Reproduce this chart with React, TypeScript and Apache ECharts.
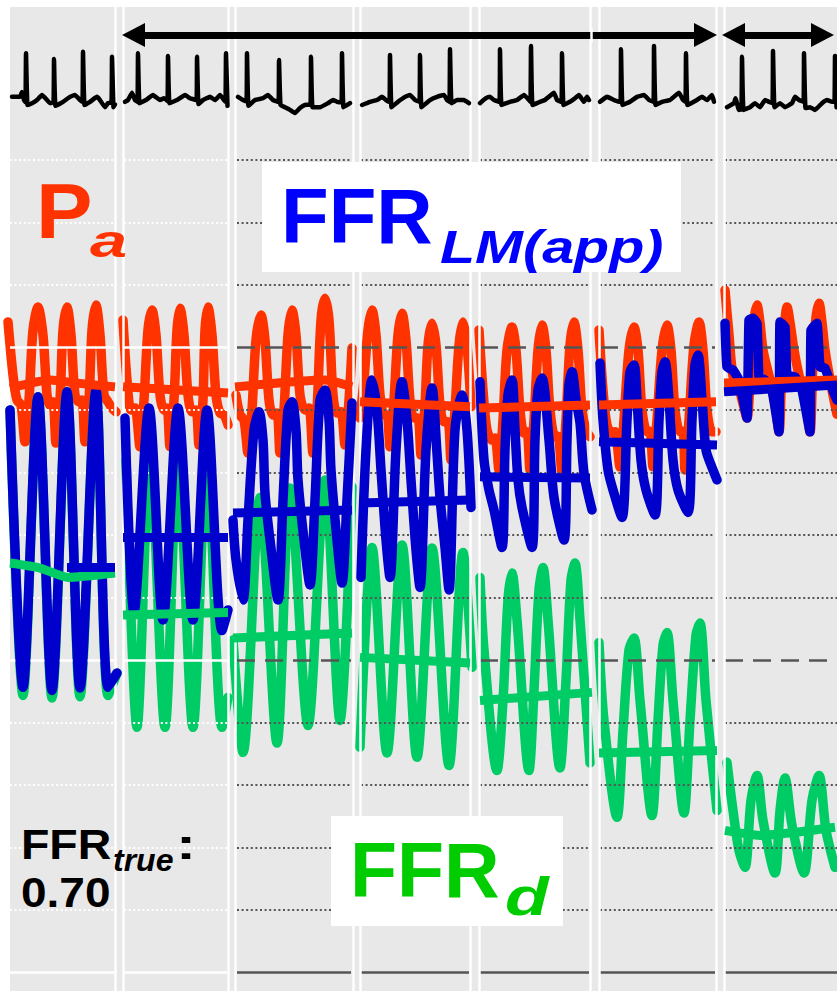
import React, { useEffect, useRef } from "react";
import * as echarts from "echarts";

// ---- axes ----
// x: recording time in samples (7 consecutive pull-back recordings side by side)
// y: pressure in mmHg; ECG in mV on its own hidden axis
const timeRange = [0, 837];
const pressureRange = [-3, 154.5];
const ecgRange = [-19.8, 2.067];

const separators = [115, 123, 228, 235, 353, 360, 470, 479, 590, 599, 716, 724];
const lightPanels = [[10, 114], [124, 227]];
const darkPanels = [[237, 351], [361, 469], [480, 589], [600, 715], [725, 837]];
const gridValues = [0, 10, 20, 30, 40, 50, 60, 70, 80, 90, 100, 110, 120, 130];
const dashedValues = [50, 100];

// ---- aortic pressure Pa (mmHg) per recording ----
const paWave = [
  [[8,104.1],[13,95.6],[17,91.6],[21,90.8],[25,84.9],[29,91.6],[33,102.8],[38,106.5],[43,102.0],[47,92.4],[50,90.8],[53,91.3],[56,84.7],[60,91.6],[63,102.8],[67,106.5],[71,102.0],[75,92.4],[79,91.3],[82,91.6],[85,84.9],[89,91.6],[92,102.8],[96,106.8],[100,102.0],[104,92.4],[108,91.3],[112,90.3],[116,89.7]],
  [[123,104.4],[127,94.8],[131,90.0],[135,90.3],[140,84.1],[144,91.6],[148,102.8],[152,106.0],[156,102.0],[160,92.4],[164,90.0],[167,90.3],[170,84.1],[174,91.6],[177,102.8],[180,106.3],[184,102.0],[188,92.4],[192,89.7],[196,90.0],[199,84.4],[203,91.6],[205,102.8],[208,106.5],[212,102.0],[216,92.4],[220,89.5],[224,89.2],[228,87.6]],
  [[236,92.4],[240,89.2],[244,88.4],[248,83.1],[252,90.0],[256,101.2],[261,105.2],[265,101.2],[269,91.6],[273,89.2],[277,89.5],[280,83.1],[284,90.0],[288,102.0],[292,106.0],[296,102.0],[300,92.4],[305,90.0],[309,90.3],[313,83.1],[317,90.0],[321,104.4],[325,107.9],[329,104.4],[333,92.4],[337,89.5],[341,89.7],[345,84.4],[349,91.6],[352,99.9]],
  [[360,88.7],[364,94.8],[368,102.8],[372,106.0],[376,102.0],[380,92.4],[384,89.2],[387,89.2],[390,84.1],[394,91.6],[398,102.0],[402,105.5],[406,101.2],[410,91.6],[414,88.7],[418,88.7],[421,82.8],[425,90.8],[428,100.4],[432,103.9],[436,100.4],[440,90.8],[444,88.1],[448,88.1],[451,82.0],[455,90.0],[459,100.4],[463,104.1],[467,100.4],[471,90.5]],
  [[479,102.8],[483,93.2],[487,86.8],[492,85.2],[495,85.5],[499,80.4],[503,88.4],[507,99.6],[512,103.3],[516,99.6],[520,90.0],[524,86.3],[527,86.5],[530,80.4],[534,88.4],[538,99.6],[542,103.6],[546,99.6],[550,90.0],[555,85.7],[558,85.8],[562,79.9],[566,88.4],[570,100.4],[574,104.1],[578,99.6],[582,90.0],[586,86.8],[590,85.7]],
  [[599,102.8],[603,93.2],[607,87.6],[612,86.3],[615,86.5],[620,80.9],[624,88.4],[629,99.6],[634,103.3],[638,99.6],[642,90.0],[647,86.5],[650,86.6],[653,80.9],[657,88.4],[662,99.6],[667,103.6],[671,99.6],[675,90.0],[680,86.5],[683,86.6],[685,80.4],[689,88.4],[694,100.4],[699,104.1],[703,99.6],[707,90.0],[712,86.5],[716,86.5]],
  [[725,109.2],[729,102.0],[733,95.4],[738,94.0],[743,91.0],[747,88.7],[751,98.0],[754,104.4],[757,106.8],[760,104.0],[763,99.6],[770,94.8],[775,91.0],[779,86.5],[782,98.0],[785,104.4],[787,106.5],[790,104.0],[794,99.6],[800,94.8],[806,91.0],[810,86.5],[813,98.0],[816,104.8],[819,107.1],[822,104.0],[825,99.6],[831,94.0],[837,89.3]],
];
const paMean = [
  [[10,93.5],[50,94.8],[77,94.3],[115,93.7]],
  [[123,93.7],[228,92.7]],
  [[235,93.7],[325,94.8],[352,93.7]],
  [[360,91.3],[470,90.5]],
  [[479,90.3],[590,90.8]],
  [[599,90.8],[716,91.3]],
  [[724,94.3],[837,94.8]],
];

// ---- apparent left-main pressure FFR_LM(app) ----
const lmWave = [
  [[10,90.0],[23,45.6],[38,92.1],[52,45.1],[67,92.9],[80,45.5],[96,93.2],[108,45.6],[117,47.9]],
  [[125,88.7],[134,57.6],[149,90.3],[163,56.4],[178,90.3],[193,56.4],[207,90.0],[222,54.7],[228,58.0]],
  [[233,72.4],[236,66.0],[243,59.6],[248,72.4],[254,86.8],[259,89.7],[263,85.2],[265,76.7],[270,69.2],[278,59.6],[283,75.6],[288,90.0],[292,91.3],[296,86.8],[298,78.8],[304,69.2],[310,62.0],[315,75.6],[320,91.6],[325,93.2],[329,88.4],[331,80.4],[337,69.2],[342,62.3],[347,75.6],[352,91.1]],
  [[361,63.2],[366,83.6],[372,94.8],[377,90.0],[381,80.4],[386,69.2],[390,63.2],[396,83.6],[402,94.5],[407,88.4],[411,78.8],[416,67.6],[420,61.6],[426,83.6],[432,93.5],[437,83.1],[440,76.0],[445,68.0],[449,61.2],[455,86.8],[462,92.4],[467,86.8],[471,74.4]],
  [[480,94.5],[484,82.0],[489,77.2],[494,74.0],[502,68.0],[505,83.6],[508,92.4],[512,94.8],[515,86.8],[518,78.8],[522,74.4],[532,68.0],[535,85.2],[538,93.2],[542,95.1],[549,85.2],[554,76.0],[564,69.2],[567,85.2],[569,94.0],[572,96.1],[576,91.6],[580,87.9],[584,79.9],[592,74.0]],
  [[600,97.5],[603,88.4],[608,80.4],[613,77.2],[622,72.8],[627,88.4],[630,96.1],[634,97.2],[637,91.6],[641,82.0],[646,77.2],[655,73.2],[659,88.4],[662,96.1],[665,97.7],[669,91.6],[673,82.0],[678,77.2],[688,73.6],[692,88.4],[695,97.2],[698,98.8],[702,91.6],[706,83.6],[711,81.2],[717,78.8]],
  [[725,103.9],[727,96.9],[733,96.4],[739,94.8],[747,88.7],[749,104.4],[753,104.7],[757,103.9],[759,95.3],[765,94.8],[772,93.2],[779,86.5],[780,104.1],[785,103.3],[787,95.6],[795,95.3],[802,93.2],[810,86.5],[811,102.8],[817,103.9],[820,96.9],[825,96.7],[834,92.7],[837,91.6]],
];
const lmMean = [
  [[67,64.8],[115,64.8]],
  [[123,69.6],[228,69.6]],
  [[233,73.5],[352,74.0]],
  [[360,75.1],[470,75.6]],
  [[480,79.3],[590,79.1]],
  [[599,84.9],[717,84.4]],
  [[724,92.9],[837,94.0]],
];

// ---- distal pressure FFR_d ----
const fdWave = [
  [[10,90.0],[23,44.3],[38,92.1],[52,43.9],[67,92.9],[80,44.1],[96,93.2],[108,44.3],[117,47.9]],
  [[126,82.0],[137,39.2],[150,83.1],[165,39.2],[178,83.1],[193,39.2],[207,82.8],[222,39.2],[228,44.0]],
  [[233,53.2],[243,35.2],[260,76.0],[277,36.7],[290,77.5],[308,39.5],[325,78.8],[340,40.3],[352,77.7]],
  [[360,36.0],[372,68.0],[387,35.1],[402,68.4],[417,34.4],[432,67.9],[449,33.1],[463,67.2],[472,48.8]],
  [[480,63.2],[484,51.6],[497,32.3],[503,43.5],[508,59.6],[512,63.9],[517,56.4],[529,32.3],[534,45.1],[539,61.2],[543,64.8],[548,56.4],[560,32.7],[566,46.7],[571,62.8],[575,65.5],[580,56.4],[590,33.5]],
  [[599,52.8],[604,40.3],[617,24.8],[623,38.7],[629,51.6],[634,53.5],[640,43.5],[652,25.1],[658,40.3],[663,52.4],[667,54.4],[673,43.5],[684,25.5],[690,40.3],[696,54.0],[700,55.9],[706,43.5],[717,25.9]],
  [[727,33.6],[733,25.9],[739,19.5],[745,16.8],[751,27.5],[757,31.5],[763,24.3],[775,15.9],[780,25.9],[785,31.1],[792,23.5],[804,15.9],[812,27.5],[819,31.5],[826,22.7],[835,16.8]],
];
const fdMean = [
  [[10,65.5],[40,64.7],[68,63.2],[115,63.9]],
  [[123,57.2],[228,57.6]],
  [[233,53.5],[352,54.3]],
  [[360,50.4],[470,49.5]],
  [[480,43.5],[592,44.8]],
  [[599,35.1],[717,35.5]],
  [[725,22.7],[760,21.9],[835,23.2]],
];

// ---- ECG (mV) ----
const ecg = [
  [[12,0.07],[20,0.07],[22,0.18],[24,0],[25.5,-0.05],[26,1.04],[27.5,-0.11],[32,-0.07],[37,0],[42,0.11],[47,0],[50,-0.07],[53.5,-0.05],[54,0.91],[55.5,-0.13],[63,-0.04],[70,0.07],[75,0.11],[80,0],[82.5,-0.04],[83,1.07],[84.5,-0.11],[90,-0.04],[97,0.07],[100,0],[105,-0.16],[108,-0.07],[111.5,-0.05],[112,0.96],[113.5,-0.16],[115,-0.1]],
  [[125,-0.04],[128,0],[132,0.16],[135,0],[137.5,-0.04],[138,1.04],[139.5,-0.07],[146,0],[153,0.11],[160,0],[164,0.04],[167.5,-0.02],[168,0.98],[169.5,-0.07],[177,0],[185,0.11],[190,0.04],[196.5,0],[197,0.96],[198.5,-0.09],[203,0],[210,0.07],[215,0],[220,0.11],[224,0],[225.5,-0.04],[226,1.04],[227.5,-0.13]],
  [[238,0.07],[243,0],[246.5,-0.03],[247,1.04],[248.5,-0.13],[255,0],[263,0.04],[268,0.11],[273,0],[278.5,-0.04],[279,0.89],[280.5,-0.11],[285,-0.16],[290,-0.22],[295,-0.29],[300,-0.18],[305,-0.11],[310.5,-0.1],[311,0.96],[312.5,-0.16],[320,-0.16],[328,-0.07],[333,0],[337,-0.04],[341.5,-0.05],[342,1.04],[343.5,-0.16],[350,-0.07]],
  [[362,-0.11],[370,-0.04],[377,0],[382,0.07],[386,0],[389.5,-0.04],[390,1.0],[391.5,-0.16],[398,-0.04],[405,0.07],[410,0.11],[415,0],[419.5,-0.04],[420,1.0],[421.5,-0.16],[430,0],[437,0.07],[444,0.11],[447,0],[449.5,-0.04],[450,1.13],[451.5,-0.07],[457,0],[464,0],[469,-0.07]],
  [[480,-0.07],[486,0.04],[490,0.07],[494,0],[499.5,-0.04],[500,1.13],[501.5,-0.11],[510,-0.04],[517,0],[524,0.11],[529,0],[530.5,-0.04],[531,1.2],[532.5,-0.11],[540,-0.04],[545,0],[554,0.16],[557,0],[561.5,-0.04],[562,1.04],[563.5,-0.11],[570,-0.04],[575,0.04],[579,0.11],[584,-0.04],[587,0.07],[589,0]],
  [[600,-0.04],[607,0.07],[614,0],[620.5,-0.04],[621,1.13],[622.5,-0.11],[630,-0.04],[637,0.07],[644,0.11],[649,0],[653.5,-0.04],[654,1.2],[655.5,-0.11],[662,-0.04],[670,0],[679,0.16],[683,0],[685.5,-0.04],[686,1.04],[687.5,-0.11],[697,0],[702,0.07],[707,0],[712,0.11],[714,-0.04]],
  [[727,-0.16],[734,-0.07],[735.5,0.04],[739,-0.22],[741.5,-0.2],[742,0.96],[743.5,-0.22],[750,-0.16],[755,-0.07],[760,-0.16],[765,0],[769,-0.04],[772.5,-0.07],[773,1.09],[774.5,-0.16],[780,-0.07],[785,-0.16],[792,-0.07],[795,0.07],[799,0],[803.5,-0.04],[804,1.04],[805.5,-0.18],[810,-0.16],[815,-0.22],[822,-0.07],[827,0],[832,-0.04],[834.5,-0.04],[835,0.98],[836.5,-0.16]],
];

// ---- pull-back arrows (time spans, drawn at 150 mmHg level) ----
const arrowSpans = [[122, 717], [722, 834]];
const arrowLevel = 150;

const RED = "#FF3300";
const BLUE = "#0000CC";
const GREEN = "#00CC66";
const GRID_DARK = "#555555";

function gridStyle(v: number, light: boolean) {
  const color = light ? "#FFFFFF" : GRID_DARK;
  if (v === 0) return { color, width: 2.5, type: "solid" as any };
  if (dashedValues.includes(v)) return light ? { color, width: 2.5, type: "solid" as any } : { color, width: 2.5, type: [18, 10] as any };
  return { color, width: 2.2, type: [2, 2.6] as any };
}

function font(size: number, italic = false) {
  return `${italic ? "italic " : ""}bold ${size}px "Liberation Sans", Arial, Helvetica, sans-serif`;
}
// y given baseline, for 'middle' vertical alignment (central baseline)
function mid(baseline: number, size: number) {
  return baseline - 0.3465 * size;
}

export default function App() {
  const ref = useRef<HTMLDivElement>(null);
  useEffect(() => {
    if (!ref.current) return;
    const chart = echarts.init(ref.current, undefined, { renderer: "svg" });

    const gridSegments: any[] = [];
    gridValues.forEach((v) => {
      lightPanels.forEach(([a, b]) =>
        gridSegments.push([{ coord: [a, v], lineStyle: gridStyle(v, true) }, { coord: [b, v] }])
      );
      darkPanels.forEach(([a, b]) =>
        gridSegments.push([{ coord: [a, v], lineStyle: gridStyle(v, false) }, { coord: [b, v] }])
      );
    });

    const series: any[] = [
      {
        type: "line", data: [], silent: true, z: 0,
        markArea: { silent: true, itemStyle: { color: "#E8E8E8" }, data: [[{ xAxis: 10 }, { xAxis: 837 }]] },
      },
      {
        type: "line", data: [], silent: true, z: 1,
        markLine: { silent: true, symbol: ["none", "none"], label: { show: false }, emphasis: { disabled: true }, data: gridSegments },
      },
      {
        type: "line", data: [], silent: true, z: 2,
        markLine: {
          silent: true, symbol: ["none", "none"], label: { show: false }, emphasis: { disabled: true },
          data: separators.map((x) => ({ xAxis: x, lineStyle: { color: "#FFFFFF", width: 2.5, type: "solid" } })),
        },
      },
    ];

    const wave = (data: number[][], color: string, z: number, width = 9.5, smooth = 0.3) => ({
      type: "line", data, z, silent: true, symbol: "none", showSymbol: false, smooth, clip: false,
      lineStyle: { color, width, cap: "round", join: "round" },
    });
    const meanLine = (data: number[][], color: string, z: number) => ({
      type: "line", data, z, silent: true, symbol: "none", showSymbol: false, smooth: 0.2, clip: false,
      lineStyle: { color, width: 9, cap: "butt", join: "round" },
    });

    paWave.forEach((d) => series.push(wave(d, RED, 3)));
    fdWave.forEach((d) => series.push(wave(d, GREEN, 4)));
    lmWave.forEach((d, i) => series.push(wave(d, BLUE, 5, 9.5, i === 6 ? 0.1 : 0.3)));
    paMean.forEach((d) => series.push(meanLine(d, RED, 6)));
    fdMean.forEach((d) => series.push(meanLine(d, GREEN, 6)));
    lmMean.forEach((d) => series.push(meanLine(d, BLUE, 7)));
    ecg.forEach((d) =>
      series.push({
        type: "line", data: d, yAxisIndex: 1, z: 8, silent: true, symbol: "none", showSymbol: false, smooth: 0.1,
        lineStyle: { color: "#000", width: 4.5, cap: "round", join: "round" },
      })
    );

    const headLen = 23;
    series.push({
      type: "line", data: [], silent: true, z: 9,
      markLine: {
        silent: true, symbol: ["triangle", "triangle"], symbolSize: [24, headLen], label: { show: false },
        emphasis: { disabled: true },
        lineStyle: { color: "#000", width: 7, type: "solid" },
        data: arrowSpans.map(([a, b]) => [{ coord: [a + headLen / 2, arrowLevel] }, { coord: [b - headLen / 2, arrowLevel] }]),
      },
    });
    series.push({
      type: "line", data: [], silent: true, z: 10,
      markLine: {
        silent: true, symbol: ["none", "none"], label: { show: false }, emphasis: { disabled: true },
        lineStyle: { color: "#FFFFFF", width: 2.5, type: "solid" },
        data: [[{ coord: [591, arrowLevel - 1.2] }, { coord: [591, arrowLevel + 1.2] }]],
      },
    });

    const txt = (text: string, x: number, baseline: number, size: number, color: string, italic = false, scaleX = 1, lineHeight?: number) => ({
      type: "text", x, y: mid(baseline, size), scaleX, z: 101, silent: true,
      style: { text, font: font(size, italic), fill: color, align: "left", verticalAlign: "middle", lineHeight: lineHeight || size },
    });

    chart.setOption({
      animation: false,
      backgroundColor: "#FFFFFF",
      grid: { left: 0, right: 0, top: 7, bottom: 0, containLabel: false },
      xAxis: { type: "value", min: timeRange[0], max: timeRange[1], show: false },
      yAxis: [
        { type: "value", min: pressureRange[0], max: pressureRange[1], show: false },
        { type: "value", min: ecgRange[0], max: ecgRange[1], show: false },
      ],
      series,
      graphic: [
        { type: "rect", z: 100, silent: true, shape: { x: 262, y: 162, width: 419, height: 110 }, style: { fill: "#FFFFFF" } },
        { type: "rect", z: 100, silent: true, shape: { x: 331, y: 816, width: 232, height: 110 }, style: { fill: "#FFFFFF" } },
        txt("P", 36, 238, 77, RED, false, 1.1),
        txt("a", 90, 257, 46, RED, true, 1.45),
        txt("FFR", 281, 243, 78, "#0000FF"),
        txt("LM(app)", 440, 263, 46, "#0000FF", true, 1.25),
        txt("FFR", 350, 897, 77, "#00CC00"),
        txt("d", 505, 915, 53, "#00CC00", true, 1.35),
        txt("FFR", 21, 859, 43, "#000000", false, 1.08),
        txt(":", 176, 859, 43, "#000000", false, 1.4),
        txt("true", 113, 871, 32, "#000000", true),
        txt("0.70", 21, 907, 43, "#000000", false, 1.07),
      ],
    });
    return () => chart.dispose();
  }, []);
  return <div ref={ref} style={{ position: "fixed", left: 0, top: 0, width: 837, height: 991 }} />;
}
